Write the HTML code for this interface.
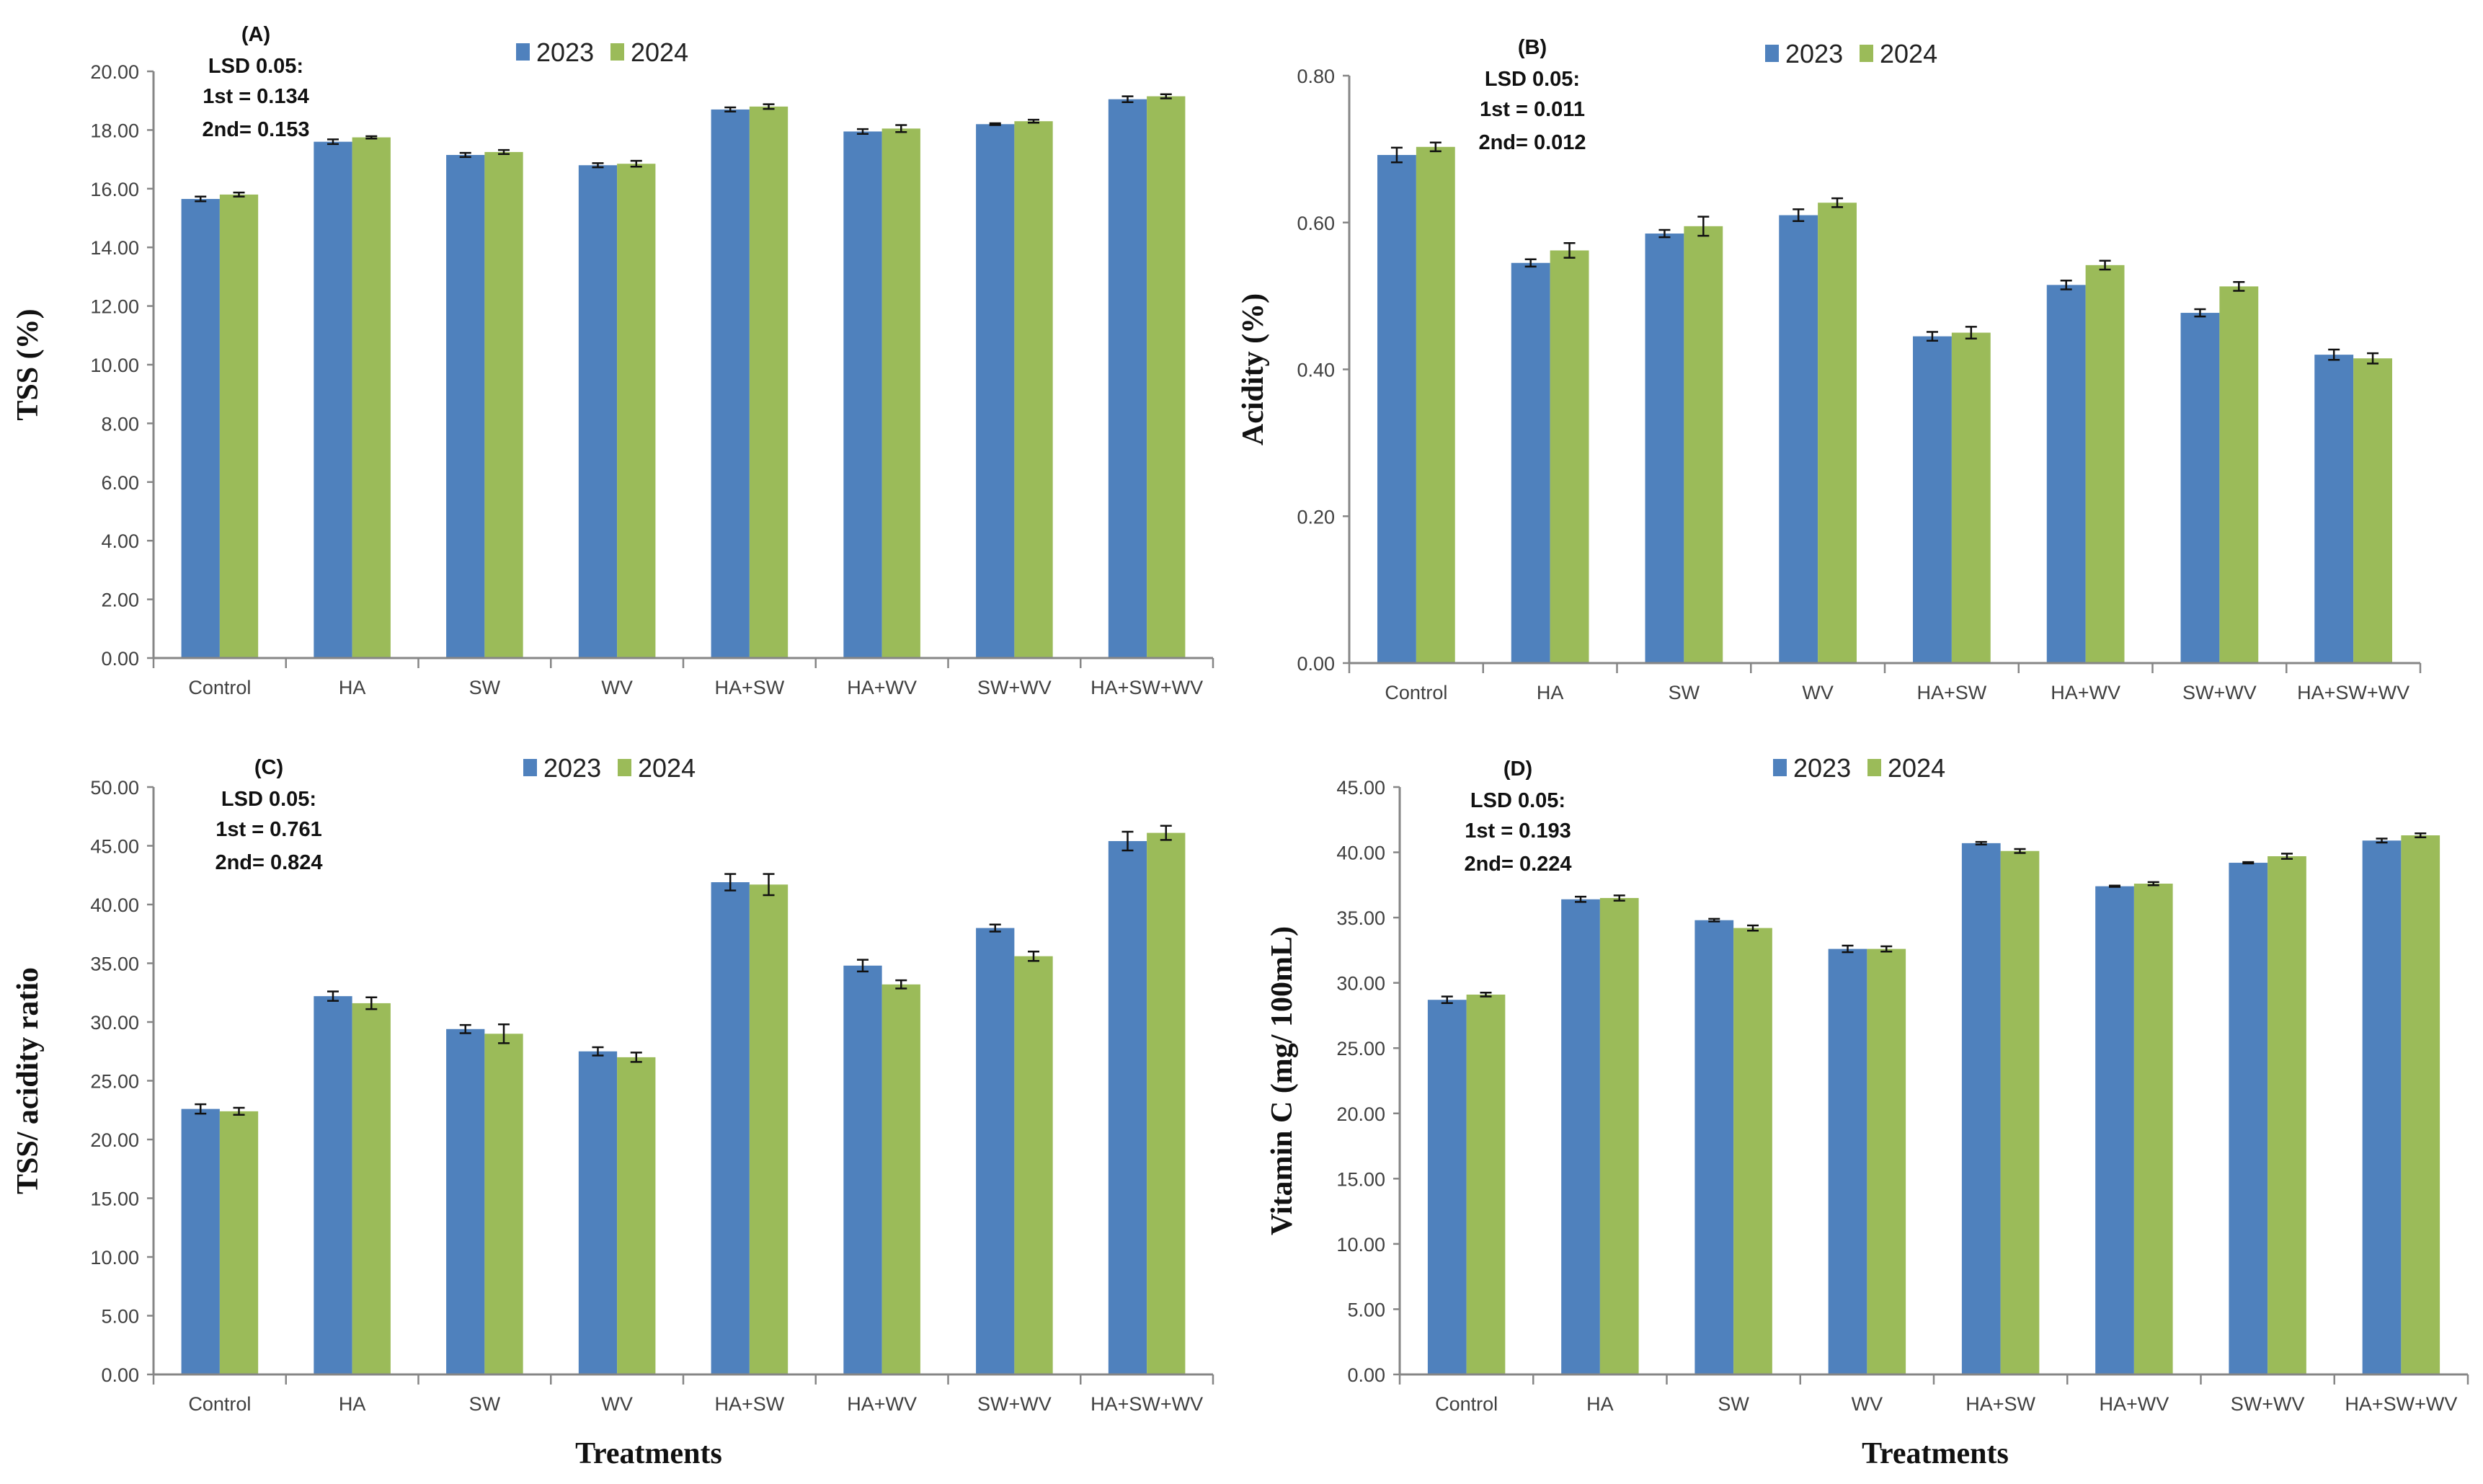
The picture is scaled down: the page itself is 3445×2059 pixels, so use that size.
<!DOCTYPE html>
<html><head><meta charset="utf-8"><style>
html,body{margin:0;padding:0;background:#fff}
svg{display:block}
.tk{font-family:"Liberation Sans",sans-serif;font-size:27px;fill:#404040}
.ann{font-family:"Liberation Sans",sans-serif;font-size:29px;font-weight:bold;fill:#111}
.leg{font-family:"Liberation Sans",sans-serif;font-size:36px;fill:#222}
.ttl{font-family:"Liberation Serif",serif;font-size:42px;font-weight:bold;fill:#111}
</style></head><body>
<svg id="fig" width="3445" height="2059" viewBox="0 0 3445 2059" xmlns="http://www.w3.org/2000/svg"></svg>
<script>
const categories = ["Control","HA","SW","WV","HA+SW","HA+WV","SW+WV","HA+SW+WV"];
const seriesNames = ["2023","2024"];
const tss2023 = [15.65,17.6,17.15,16.8,18.7,17.95,18.2,19.05];
const tss2024 = [15.8,17.75,17.25,16.85,18.8,18.05,18.3,19.15];
const tssErr2023 = [0.08,0.08,0.07,0.07,0.07,0.08,0.03,0.1];
const tssErr2024 = [0.07,0.04,0.07,0.1,0.08,0.12,0.05,0.07];
const acid2023 = [0.692,0.545,0.585,0.610,0.445,0.515,0.477,0.420];
const acid2024 = [0.703,0.562,0.595,0.627,0.450,0.542,0.513,0.415];
const acidErr2023 = [0.01,0.005,0.005,0.008,0.006,0.006,0.005,0.007];
const acidErr2024 = [0.006,0.01,0.013,0.006,0.008,0.006,0.006,0.007];
const ratio2023 = [22.6,32.2,29.4,27.5,41.9,34.8,38.0,45.4];
const ratio2024 = [22.4,31.6,29.0,27.0,41.7,33.2,35.6,46.1];
const ratioErr2023 = [0.4,0.4,0.35,0.35,0.7,0.5,0.3,0.8];
const ratioErr2024 = [0.3,0.5,0.8,0.4,0.9,0.35,0.4,0.6];
const vitc2023 = [28.7,36.4,34.8,32.6,40.7,37.4,39.2,40.9];
const vitc2024 = [29.1,36.5,34.2,32.6,40.1,37.6,39.7,41.3];
const vitcErr2023 = [0.25,0.2,0.1,0.25,0.1,0.05,0.05,0.15];
const vitcErr2024 = [0.15,0.2,0.2,0.2,0.15,0.12,0.2,0.15];
const ticksA = [0,2,4,6,8,10,12,14,16,18,20];
const ticksB = [0,0.2,0.4,0.6,0.8];
const ticksC = [0,5,10,15,20,25,30,35,40,45,50];
const ticksD = [0,5,10,15,20,25,30,35,40,45];

const NS="http://www.w3.org/2000/svg";
const svg=document.getElementById('fig');
function mk(tag,attrs,parent){const e=document.createElementNS(NS,tag);for(const k in attrs)e.setAttribute(k,attrs[k]);(parent||svg).appendChild(e);return e;}
const COLORS=["#4F81BD","#9BBB59"];

function panel(cfg){
  const g=mk('g',{});
  
  
  const x0=cfg.x0,x1=cfg.x1,yTop=cfg.yTop,yZero=cfg.yZero,max=cfg.ticks[cfg.ticks.length-1];
  const yS=v=>yZero-(v/max)*(yZero-yTop);
  const step=(x1-x0)/categories.length;
  const xC=i=>x0+step*(i+0.5);
  const bw=step*0.29;
  // y ticks
  cfg.ticks.forEach(t=>{
    const y=yS(t);
    const l=mk('line',{x1:x0-9,x2:x0,y1:y,y2:y,stroke:'#868686','stroke-width':2.5},g);
    
    
    const tx=mk('text',{x:x0-20,y:y+10,'text-anchor':'end',class:'tk'},g);
    tx.textContent=t.toFixed(2);
    
    
  });
  // bars
  cfg.series.forEach((vals,s)=>{
    vals.forEach((v,i)=>{
      const bx=xC(i)-bw+s*bw;
      const r=mk('rect',{x:bx,y:yS(v),width:bw,height:yZero-yS(v),fill:COLORS[s]},g);
      
      
      const e=cfg.errs[s][i];const cx=bx+bw/2;
      const eb=mk('path',{d:`M${cx-8},${yS(v+e)}H${cx+8}M${cx},${yS(v+e)}V${yS(v-e)}M${cx-8},${yS(v-e)}H${cx+8}`,stroke:'#111','stroke-width':2.5,fill:'none'},g);
      
      
    });
  });
  // axes
  const ya=mk('line',{x1:x0,x2:x0,y1:yTop,y2:yZero,stroke:'#868686','stroke-width':3},g);
  
  
  const xa=mk('line',{x1:x0,x2:x1,y1:yZero,y2:yZero,stroke:'#868686','stroke-width':3},g);
  
  
  for(let i=0;i<=categories.length;i++){
    const t=mk('line',{x1:x0+step*i,x2:x0+step*i,y1:yZero,y2:yZero+14,stroke:'#868686','stroke-width':2.5},g);
    
    
  }
  categories.forEach((c,i)=>{
    const t=mk('text',{x:xC(i),y:yZero+50,'text-anchor':'middle',class:'tk'},g);
    t.textContent=c;
    
    
  });
  // y title
  const yt=mk('text',{x:0,y:0,'text-anchor':'middle',class:'ttl',transform:`translate(${cfg.ytX},${(yTop+yZero)/2}) rotate(-90)`},g);
  yt.textContent=cfg.ytitle;
  
  
  // annotation
  const lines=[cfg.label,'LSD 0.05:',cfg.l1,cfg.l2];
  const ys=[cfg.annY,cfg.annY+44,cfg.annY+86,cfg.annY+132];
  lines.forEach((s,k)=>{
    const t=mk('text',{x:cfg.annX,y:ys[k],'text-anchor':'middle',class:'ann'},g);
    t.textContent=s;
    
    
  });
  // legend
  seriesNames.forEach((n,s)=>{
    const lx=cfg.legX+s*131;
    const sq=mk('rect',{x:lx,y:cfg.legY-12,width:19,height:24,fill:COLORS[s]},g);
    
    
    const t=mk('text',{x:lx+28,y:cfg.legY+13,class:'leg'},g);
    t.textContent=n;
    
    
  });
}
panel({id:'tss',x0:213,x1:1683,yTop:99,yZero:913,ticks:ticksA,series:[tss2023,tss2024],errs:[tssErr2023,tssErr2024],ytitle:'TSS (%)',ytX:52,label:'(A)',l1:'1st = 0.134',l2:'2nd= 0.153',annX:355,annY:57,legX:716,legY:72});
panel({id:'acidity',x0:1872,x1:3358,yTop:105,yZero:920,ticks:ticksB,series:[acid2023,acid2024],errs:[acidErr2023,acidErr2024],ytitle:'Acidity (%)',ytX:1752,label:'(B)',l1:'1st = 0.011',l2:'2nd= 0.012',annX:2126,annY:75,legX:2449,legY:74});
panel({id:'ratio',x0:213,x1:1683,yTop:1092,yZero:1907,ticks:ticksC,series:[ratio2023,ratio2024],errs:[ratioErr2023,ratioErr2024],ytitle:'TSS/ acidity ratio',ytX:52,label:'(C)',l1:'1st = 0.761',l2:'2nd= 0.824',annX:373,annY:1074,legX:726,legY:1065});
panel({id:'vitc',x0:1942,x1:3424,yTop:1092,yZero:1907,ticks:ticksD,series:[vitc2023,vitc2024],errs:[vitcErr2023,vitcErr2024],ytitle:'Vitamin C (mg/ 100mL)',ytX:1792,label:'(D)',l1:'1st = 0.193',l2:'2nd= 0.224',annX:2106,annY:1076,legX:2460,legY:1065});
[[900,'x-axis-title-left'],[2685,'x-axis-title-right']].forEach(p=>{
  const t=mk('text',{x:p[0],y:2030,'text-anchor':'middle',class:'ttl'});
  t.textContent='Treatments';
  
  
});
</script>
</body></html>
